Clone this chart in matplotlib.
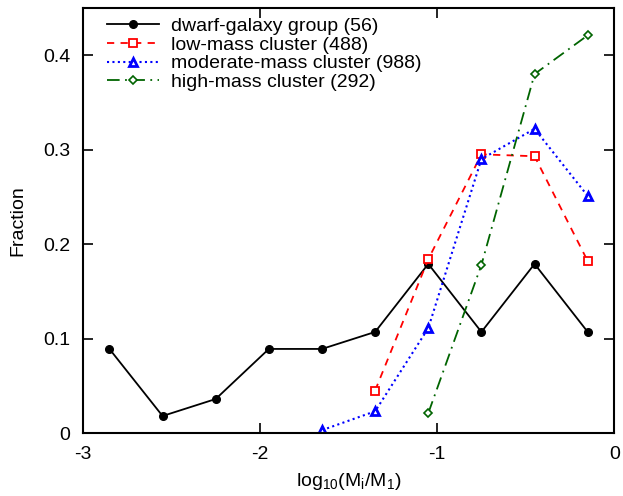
import numpy as np
import matplotlib.pyplot as plt

plt.rcParams['font.family'] = ['Liberation Sans', 'DejaVu Sans']

# bin centres, log10(Mi/M1)
x_dwarf = [-2.85, -2.55, -2.25, -1.95, -1.65, -1.35, -1.05, -0.75, -0.45, -0.15]
y_dwarf = [0.089, 0.018, 0.036, 0.089, 0.089, 0.107, 0.179, 0.107, 0.179, 0.107]

x_low = [-1.35, -1.05, -0.75, -0.45, -0.15]
y_low = [0.045, 0.184, 0.295, 0.293, 0.182]

x_mod = [-1.65, -1.35, -1.05, -0.75, -0.45, -0.15]
y_mod = [0.003, 0.023, 0.111, 0.290, 0.322, 0.251]

x_high = [-1.05, -0.75, -0.45, -0.15]
y_high = [0.021, 0.178, 0.380, 0.421]

fig = plt.figure(figsize=(6.23, 4.96), dpi=100)
ax = fig.add_axes([0.133, 0.127, 0.853, 0.857])

ax.plot(x_dwarf, y_dwarf, color='black', lw=1.3, marker='o', ms=5.5,
        label='dwarf-galaxy group (56)')
ax.plot(x_low, y_low, color='red', lw=1.3, ls=(0, (4, 3.5)), marker='s', ms=6,
        mfc='white', mew=1.3, label='low-mass cluster (488)')
ax.plot(x_mod, y_mod, color='blue', lw=1.5, ls=(0, (1, 1.6)), marker='^', ms=6,
        mfc='white', mew=2, label='moderate-mass cluster (988)')
ax.plot(x_high, y_high, color='#006400', lw=1.3, ls=(0, (7, 3, 1, 3)), marker='D', ms=4.5,
        mfc='white', mew=1.2, label='high-mass cluster (292)')

ax.set_xlim(-3, 0)
ax.set_ylim(0, 0.45)
ax.set_xticks([-3, -2, -1, 0])
ax.set_xticklabels(['-3', '-2', '-1', '0'])
ax.set_yticks([0, 0.1, 0.2, 0.3, 0.4])
ax.set_yticklabels(['0', '0.1', '0.2', '0.3', '0.4'])
ax.tick_params(direction='in', top=True, right=True, length=7, width=1.2,
               labelsize=14, pad=9)
for s in ax.spines.values():
    s.set_linewidth(1.5)

ax.set_xlabel(r'log$_\mathregular{10}$(M$_\mathregular{i}$/M$_\mathregular{1}$)',
              fontsize=14, labelpad=6)
ax.set_ylabel('Fraction', fontsize=14, labelpad=12)

ax.legend(loc='upper left', frameon=False, fontsize=14, handlelength=2.7,
          handletextpad=0.6, labelspacing=0.05, borderaxespad=0.3,
          borderpad=0.2, bbox_to_anchor=(0.027, 1.0))

fig.savefig('out.png', dpi=100)
